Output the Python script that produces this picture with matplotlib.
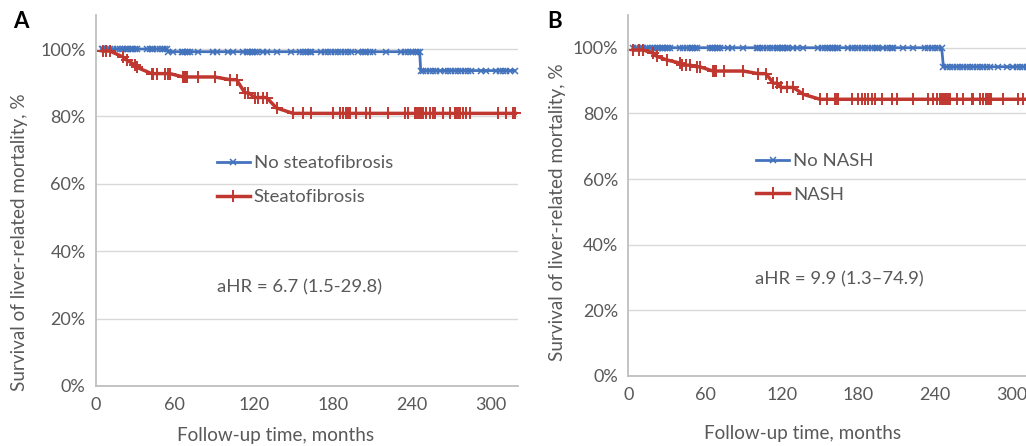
import matplotlib
matplotlib.use("Agg")
import matplotlib.pyplot as plt
from matplotlib.ticker import FuncFormatter

plt.rcParams['font.family'] = ['Lato', 'DejaVu Sans']

# ---------------- data (survival %, follow-up months) ----------------
x_ticks = [0, 60, 120, 180, 240, 300]
y_ticks = [0, 20, 40, 60, 80, 100]

# Panel A: No steatofibrosis (blue) — levels and the times plotted at each level
blue_a_levels = [100.0, 99.2, 93.6]
blue_a_times = [
    [4.3, 5.6, 8.1, 10.6, 13.1, 15.7, 18.2, 20.7, 22, 23.3, 24.5, 27, 28.3, 29.6,
     30.9, 38.5, 41, 42.3, 43.5, 46.1, 48.6, 51.2, 52.4, 53.7],
    [55, 58.8, 65.1, 66.4, 67.6, 68.9, 70.2, 71.4, 77.8, 89.2, 91.7, 100.6, 104.4,
     112, 114.5, 115.8, 117, 118.3, 119.6, 120.8, 122.1, 127.2, 129.7, 137.3, 148.7,
     155, 157.5, 160.1, 161.3, 162.6, 163.9, 171.5, 174, 176.5, 179.1, 181.6, 184.1,
     186.7, 189.2, 191.7, 194.3, 199.3, 203.1, 204.4, 205.7, 208.2, 210.7, 220.9,
     232.3, 234.8, 237.3, 239.9, 241.1, 243.7, 244.9, 246.2],
    [247.0, 248.7, 251.3, 253.8, 256.3, 258.9, 261.4, 265.2, 267.7, 270.3, 272.8,
     275.3, 277.9, 280.4, 282.9, 285.5, 293.1, 296.9, 304.5, 307, 309.5, 312.1,
     314.6, 318.4],
]

# Panel A: Steatofibrosis (red)
red_a_levels = [99.4, 97.6, 96.7, 95.3, 94.6, 92.7, 91.7, 90.9, 87.0, 85.6, 82.5, 80.9]
red_a_times = [
    [5.3, 7.5, 10.6],
    [20.7],
    [23.3],
    [29.6],
    [30.9],
    [42.3, 43.5, 46.1, 52.4, 54.9, 56.2],
    [66.4, 67.0, 67.6, 68.2, 68.9, 77.8, 90.4],
    [101.8, 106.9],
    [113.2, 116.0],
    [120.8, 123.3, 127.1, 129.7],
    [137.3],
    [149.9, 157.5, 163.9, 180.4, 185.4, 188, 190.5, 191.7, 193, 198.1, 205.7, 208.2,
     222.1, 234.8, 237.3, 242.4, 243.7, 244.9, 246.2, 247.5, 248.7, 251.3, 253.8,
     256.3, 257.6, 263.9, 269, 272.8, 274, 275.3, 276.6, 279.1, 281.6, 284.2, 305.7,
     312.1, 317.1, 319],
]

# Panel B: No NASH (blue)
blue_b_levels = [100.0, 94.2]
blue_b_times = [
    [3.9, 6.5, 9.1, 11.7, 14.3, 16.9, 19.6, 20.9, 22.2, 23.5, 24.8, 26.1, 27.4, 28.7,
     30, 31.3, 32.6, 40.4, 43, 45.6, 48.3, 49.6, 50.9, 52.2, 53.5, 63.9, 65.2, 66.5,
     67.8, 69.1, 70.4, 71.7, 78.2, 80.9, 90, 100.4, 101.7, 103, 105.6, 108.2, 110.8,
     113.5, 116.1, 117.4, 118.7, 120, 121.3, 122.6, 123.9, 125.2, 129.1, 131.7, 136.9,
     148.7, 151.3, 153.9, 156.5, 157.8, 159.1, 160.4, 161.7, 163, 164.3, 172.1, 174.8,
     177.4, 180, 182.6, 185.2, 187.8, 190.4, 193, 194.3, 195.6, 199.5, 202.1, 204.7,
     206, 207.4, 215.2, 223, 232.1, 234.7, 237.3, 240, 242.6, 245.2],
    [246.6, 249.1, 251.7, 254.3, 256.9, 259.5, 262.1, 264.7, 267.3, 269.9, 272.6,
     275.2, 277.8, 280.4, 283, 289.5, 296, 301.2, 303.8, 306.4, 309.1, 312.0],
]

# Panel B: NASH (red)
red_b_levels = [99.3, 98.3, 97.4, 96.3, 95.3, 94.7, 94.2, 92.9, 92.1, 89.2, 87.9, 85.8, 84.3]
red_b_times = [
    [3.9, 8.0, 11.7],
    [19.6],
    [22.2],
    [30.0],
    [40.5],
    [41.8, 45.0, 48.3],
    [53.5, 56.0],
    [66.2, 67.0, 67.8, 68.6, 75.0, 90.0],
    [101.7, 107.7],
    [113.5, 116.0],
    [119.5, 124.0, 129.1],
    [137.0],
    [150.0, 155.2, 161.7, 163, 164.3, 174.8, 180, 182.6, 185.2, 187.8, 190.4, 193,
     198.2, 206, 209.9, 223, 234.7, 238.6, 241.2, 243.8, 245.1, 246.4, 247.7, 249,
     250.3, 251.6, 256.9, 262.1, 268.6, 269.9, 275.1, 277.7, 280.3, 281.6, 282.9,
     284.2, 293.3, 305.1, 309, 312.0],
]

labels_a = ["No steatofibrosis", "Steatofibrosis"]
labels_b = ["No NASH", "NASH"]
hr_a = "aHR = 6.7 (1.5-29.8)"
hr_b = "aHR = 9.9 (1.3\u201374.9)"
x_title = "Follow-up time, months"
y_title = "Survival of liver-related mortality, %"

# ---------------- style ----------------
BLUE = "#4473BD"
RED = "#C0372F"
TXT = "#595959"
GRID = "#D9D9D9"
SPINE = "#BFBFBF"
FS = 13.3
TICK_FS = 13.0
TITLE_FS = 13.6

W, H = 1026, 446
fig = plt.figure(figsize=(W / 100, H / 100), dpi=100)


def build(levels, times):
    xs, ys = [], []
    for lv, ts in zip(levels, times):
        for t in ts:
            xs.append(t)
            ys.append(lv)
    return xs, ys


def px_axes(left, right, top, bottom):
    return fig.add_axes([left / W, 1 - bottom / H, (right - left) / W, (bottom - top) / H])


def style(ax):
    ax.set_xlim(0, 321)
    ax.set_ylim(0, 110)
    ax.set_xticks(x_ticks)
    ax.set_yticks(y_ticks)
    ax.yaxis.set_major_formatter(FuncFormatter(lambda v, p: f"{int(v)}%"))
    ax.grid(axis="y", color=GRID, lw=1.0)
    ax.set_axisbelow(True)
    for s in ["top", "right"]:
        ax.spines[s].set_visible(False)
    for s in ["left", "bottom"]:
        ax.spines[s].set_color(SPINE)
        ax.spines[s].set_linewidth(1.3)
    ax.tick_params(length=0, labelsize=TICK_FS, labelcolor=TXT)
    ax.tick_params(axis="x", pad=8)
    ax.tick_params(axis="y", pad=7.5)


def draw(ax, blevels, btimes, rlevels, rtimes, labels, hr, leg_xy, hr_xy):
    bx, by = build(blevels, btimes)
    rx, ry = build(rlevels, rtimes)
    ax.plot(bx, by, color=BLUE, lw=2.0, marker="x", ms=4.5, mew=1.1, label=labels[0],
            clip_on=False)
    ax.plot(rx, ry, color=RED, lw=2.5, marker="+", ms=8.5, mew=1.4, label=labels[1],
            clip_on=False)
    leg = ax.legend(loc="center left", bbox_to_anchor=leg_xy, frameon=False,
                    fontsize=FS, numpoints=1, handlelength=1.8, handletextpad=0.2,
                    labelspacing=0.95, borderpad=0, borderaxespad=0)
    for t in leg.get_texts():
        t.set_color(TXT)
    ax.text(hr_xy[0], hr_xy[1], hr, fontsize=FS, color=TXT, ha="left", va="center")


# Panel A
axA = px_axes(96, 518, 15.3, 386)
style(axA)
draw(axA, blue_a_levels, blue_a_times, red_a_levels, red_a_times, labels_a, hr_a,
     (91.9 / 321, 0.555), (92.0, 29.4))

# Panel B
axB = px_axes(628.3, 1038.5, 14.9, 376)
style(axB)
draw(axB, blue_b_levels, blue_b_times, red_b_levels, red_b_times, labels_b, hr_b,
     (99.9 / 321, 0.549), (99.5, 29.5))

# axis titles & panel letters
fig.text(276 / W, 1 - 435 / H, x_title, fontsize=TITLE_FS, color=TXT, ha="center", va="center")
fig.text(803 / W, 1 - 433 / H, x_title, fontsize=TITLE_FS, color=TXT, ha="center", va="center")
fig.text(20 / W, 1 - 242 / H, y_title, fontsize=TITLE_FS, color=TXT, ha="center", va="center",
         rotation=90)
fig.text(558 / W, 1 - 212 / H, y_title, fontsize=TITLE_FS, color=TXT, ha="center", va="center",
         rotation=90)
fig.text(21 / W, 1 - 22 / H, "A", fontsize=16, fontweight="bold", color="black",
         ha="center", va="center")
fig.text(555 / W, 1 - 22 / H, "B", fontsize=16, fontweight="bold", color="black",
         ha="center", va="center")

fig.savefig("out.png", dpi=100)
